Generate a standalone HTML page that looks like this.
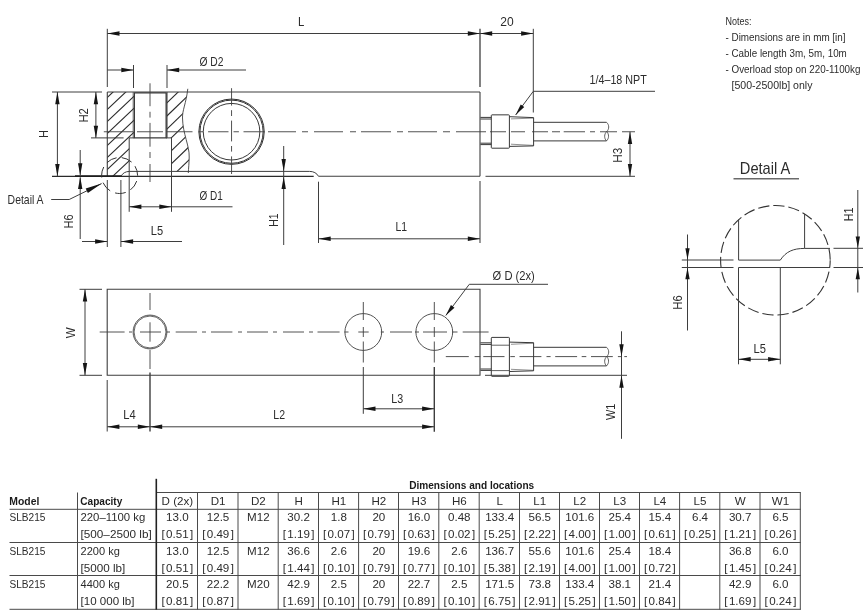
<!DOCTYPE html>
<html lang="en">
<head>
<meta charset="utf-8">
<title>SLB215 Dimensions</title>
<style>
html,body{margin:0;padding:0;background:#fff;}
body{width:868px;height:613px;overflow:hidden;}
svg{display:block;font-family:"Liberation Sans",sans-serif;}
</style>
</head>
<body>
<svg width="868" height="613" viewBox="0 0 868 613">
<rect width="868" height="613" fill="#fff"/>
<g opacity="0.999">
<line x1="107.3" y1="28.8" x2="107.3" y2="87" stroke="#3e3e3e" stroke-width="1"/>
<line x1="480.0" y1="28.8" x2="480.0" y2="87" stroke="#3e3e3e" stroke-width="1.3"/>
<line x1="107.3" y1="33.5" x2="480.0" y2="33.5" stroke="#3e3e3e" stroke-width="1"/>
<polygon points="107.30,33.50 119.50,31.30 119.50,35.70" fill="#151515"/>
<polygon points="480.00,33.50 467.80,35.70 467.80,31.30" fill="#151515"/>
<text x="301.2" y="26.3" font-size="12.1" text-anchor="middle" textLength="6.3" lengthAdjust="spacingAndGlyphs" fill="#2c2c2c">L</text>
<line x1="480.0" y1="33.5" x2="533.3" y2="33.5" stroke="#3e3e3e" stroke-width="1"/>
<polygon points="480.00,33.50 492.20,31.30 492.20,35.70" fill="#151515"/>
<polygon points="533.30,33.50 521.10,35.70 521.10,31.30" fill="#151515"/>
<line x1="533.3" y1="28.8" x2="533.3" y2="112.5" stroke="#3e3e3e" stroke-width="1"/>
<text x="507" y="26.4" font-size="12.1" text-anchor="middle" textLength="13.4" lengthAdjust="spacingAndGlyphs" fill="#2c2c2c">20</text>
<line x1="133.5" y1="65" x2="133.5" y2="88" stroke="#3e3e3e" stroke-width="1"/>
<line x1="167" y1="65" x2="167" y2="88" stroke="#3e3e3e" stroke-width="1"/>
<line x1="107.3" y1="70" x2="133.5" y2="70" stroke="#3e3e3e" stroke-width="1"/>
<polygon points="133.50,70.00 121.30,72.20 121.30,67.80" fill="#151515"/>
<line x1="167" y1="70" x2="246" y2="70" stroke="#3e3e3e" stroke-width="1"/>
<polygon points="167.00,70.00 179.20,67.80 179.20,72.20" fill="#151515"/>
<text x="199.5" y="65.7" font-size="12.1" textLength="24" lengthAdjust="spacingAndGlyphs" fill="#2c2c2c">Ø D2</text>
<line x1="52" y1="92.0" x2="102" y2="92.0" stroke="#3e3e3e" stroke-width="1"/>
<line x1="57.4" y1="92.0" x2="57.4" y2="176.3" stroke="#3e3e3e" stroke-width="1"/>
<polygon points="57.40,92.00 59.60,104.20 55.20,104.20" fill="#151515"/>
<polygon points="57.40,176.30 55.20,164.10 59.60,164.10" fill="#151515"/>
<text x="47.7" y="133.9" font-size="12.1" text-anchor="middle" textLength="7.6" lengthAdjust="spacingAndGlyphs" transform="rotate(-90 47.7 133.9)" fill="#2c2c2c">H</text>
<line x1="91" y1="137.9" x2="123.6" y2="137.9" stroke="#3e3e3e" stroke-width="1"/>
<line x1="95.9" y1="92.0" x2="95.9" y2="137.9" stroke="#3e3e3e" stroke-width="1"/>
<polygon points="95.90,92.00 98.10,104.20 93.70,104.20" fill="#151515"/>
<polygon points="95.90,137.90 93.70,125.70 98.10,125.70" fill="#151515"/>
<text x="87.7" y="115.4" font-size="12.1" text-anchor="middle" textLength="14.3" lengthAdjust="spacingAndGlyphs" transform="rotate(-90 87.7 115.4)" fill="#2c2c2c">H2</text>
<defs>
<clipPath id="hl"><path d="M107.3 92 H134 V137.9 H129.2 V171.4 Q123.5 171.8 121 176.3 H107.3 Z"/></clipPath>
<clipPath id="hr"><path d="M167 92 H187.4 C186 104 182.3 110 182.5 118 C182.8 134 189.6 146 189.2 157 C189 164 188.6 168 188.4 171.4 H171.5 V137.9 H167 Z"/></clipPath>
</defs>
<g clip-path="url(#hl)">
<line x1="100" y1="80.26" x2="200" y2="-13.74" stroke="#2a2a2a" stroke-width="1.1"/>
<line x1="100" y1="92.26" x2="200" y2="-1.74" stroke="#2a2a2a" stroke-width="1.1"/>
<line x1="100" y1="104.26" x2="200" y2="10.26" stroke="#2a2a2a" stroke-width="1.1"/>
<line x1="100" y1="116.26" x2="200" y2="22.26" stroke="#2a2a2a" stroke-width="1.1"/>
<line x1="100" y1="128.26" x2="200" y2="34.26" stroke="#2a2a2a" stroke-width="1.1"/>
<line x1="100" y1="140.26" x2="200" y2="46.26" stroke="#2a2a2a" stroke-width="1.1"/>
<line x1="100" y1="152.26" x2="200" y2="58.26" stroke="#2a2a2a" stroke-width="1.1"/>
<line x1="100" y1="164.26" x2="200" y2="70.26" stroke="#2a2a2a" stroke-width="1.1"/>
<line x1="100" y1="176.26" x2="200" y2="82.26" stroke="#2a2a2a" stroke-width="1.1"/>
<line x1="100" y1="188.26" x2="200" y2="94.26" stroke="#2a2a2a" stroke-width="1.1"/>
<line x1="100" y1="200.26" x2="200" y2="106.26" stroke="#2a2a2a" stroke-width="1.1"/>
<line x1="100" y1="212.26" x2="200" y2="118.26" stroke="#2a2a2a" stroke-width="1.1"/>
<line x1="100" y1="224.26" x2="200" y2="130.26" stroke="#2a2a2a" stroke-width="1.1"/>
<line x1="100" y1="236.26" x2="200" y2="142.26" stroke="#2a2a2a" stroke-width="1.1"/>
</g>
<g clip-path="url(#hr)">
<line x1="160" y1="83.48" x2="200" y2="44.88" stroke="#2a2a2a" stroke-width="1.1"/>
<line x1="160" y1="96.53" x2="200" y2="57.93" stroke="#2a2a2a" stroke-width="1.1"/>
<line x1="160" y1="109.58" x2="200" y2="70.98" stroke="#2a2a2a" stroke-width="1.1"/>
<line x1="160" y1="122.63" x2="200" y2="84.03" stroke="#2a2a2a" stroke-width="1.1"/>
<line x1="160" y1="135.68" x2="200" y2="97.08" stroke="#2a2a2a" stroke-width="1.1"/>
<line x1="160" y1="148.73" x2="200" y2="110.13" stroke="#2a2a2a" stroke-width="1.1"/>
<line x1="160" y1="161.78" x2="200" y2="123.18" stroke="#2a2a2a" stroke-width="1.1"/>
<line x1="160" y1="174.83" x2="200" y2="136.23" stroke="#2a2a2a" stroke-width="1.1"/>
<line x1="160" y1="187.88" x2="200" y2="149.28" stroke="#2a2a2a" stroke-width="1.1"/>
<line x1="160" y1="200.93" x2="200" y2="162.33" stroke="#2a2a2a" stroke-width="1.1"/>
<line x1="160" y1="213.98" x2="200" y2="175.38" stroke="#2a2a2a" stroke-width="1.1"/>
</g>
<line x1="107.3" y1="92.0" x2="480.0" y2="92.0" stroke="#3e3e3e" stroke-width="1.1"/>
<line x1="107.3" y1="92.0" x2="107.3" y2="176.3" stroke="#3e3e3e" stroke-width="1.1"/>
<line x1="480.0" y1="92.0" x2="480.0" y2="176.3" stroke="#3e3e3e" stroke-width="1.1"/>
<line x1="52" y1="176.3" x2="313.7" y2="176.3" stroke="#2a2a2a" stroke-width="1.15"/>
<line x1="318.5" y1="176.3" x2="480.0" y2="176.3" stroke="#3e3e3e" stroke-width="1.1"/>
<line x1="75" y1="176.10000000000002" x2="121.5" y2="176.10000000000002" stroke="#1c1c1c" stroke-width="1.8"/>
<path d="M121 176.3 Q123.5 171.6 129.2 171.4 H309.5 Q315.8 171.4 318.5 176.3" stroke="#3e3e3e" stroke-width="1" fill="none"/>
<path d="M134.3 92.9 H166.2 V137.9 H134.3 Z" stroke="#3a3a3a" stroke-width="1.4" fill="none"/>
<line x1="133.1" y1="92.0" x2="133.1" y2="137.9" stroke="#3e3e3e" stroke-width="0.6"/>
<line x1="167.4" y1="92.0" x2="167.4" y2="137.9" stroke="#3e3e3e" stroke-width="0.6"/>
<line x1="129.2" y1="137.9" x2="134.3" y2="137.9" stroke="#3e3e3e" stroke-width="1"/>
<line x1="166.2" y1="137.9" x2="171.5" y2="137.9" stroke="#3e3e3e" stroke-width="1"/>
<line x1="129.2" y1="137.9" x2="129.2" y2="211.8" stroke="#3e3e3e" stroke-width="1"/>
<line x1="171.5" y1="137.9" x2="171.5" y2="211.8" stroke="#3e3e3e" stroke-width="1"/>
<path d="M150.0 83.3V106.2 M150.0 111.8V117.6 M150.0 122.9V146.7 M150.0 152V158 M150.0 164V182" stroke="#3e3e3e" stroke-width="0.9" fill="none"/>
<path d="M103.8 131.75H133.3 M137 131.75H163 M166.5 131.75H192.5 M198.5 131.75H203.2 M208.1 131.75H228.5 M233.5 131.75H238.9 M243.5 131.75H264.7 M268 131.75H296 M302 131.75H308 M314 131.75H343 M350 131.75H356 M361 131.75H391 M397 131.75H403 M408 131.75H437 M443 131.75H450 M456 131.75H486 M490 131.75H506 M511 131.75H525 M532 131.75H548 M552 131.75H560 M563.7 131.75H585 M590 131.75H595 M600 131.75H617 M622 131.75H635" stroke="#3e3e3e" stroke-width="0.9" fill="none"/>
<path d="M187.8 88.8 C186 104 182.3 110 182.5 118 C182.8 134 189.6 146 189.2 157 C189 164 188.6 168 188.3 173" stroke="#3e3e3e" stroke-width="0.9" fill="none"/>
<circle cx="231.55" cy="131.7" r="32.65" stroke="#2e2e2e" stroke-width="1" fill="none"/>
<circle cx="231.55" cy="131.7" r="31.6" stroke="#2e2e2e" stroke-width="1" fill="none"/>
<circle cx="231.55" cy="131.7" r="28.3" stroke="#2e2e2e" stroke-width="0.95" fill="none"/>
<path d="M231.55 88.2V105.6 M231.55 110.2V116 M231.55 120.6V141.4 M231.55 146V151.6 M231.55 156.4V174" stroke="#3e3e3e" stroke-width="0.9" fill="none"/>
<circle cx="119.6" cy="175.5" r="18" stroke="#333" stroke-width="1" fill="none" stroke-dasharray="10.85 5.3" stroke-dashoffset="-5.7"/>
<line x1="107.3" y1="180" x2="107.3" y2="247" stroke="#3e3e3e" stroke-width="1"/>
<line x1="120.9" y1="180" x2="120.9" y2="247" stroke="#3e3e3e" stroke-width="1"/>
<line x1="80.2" y1="150" x2="80.2" y2="175.3" stroke="#3e3e3e" stroke-width="1"/>
<polygon points="80.20,175.50 78.00,163.30 82.40,163.30" fill="#151515"/>
<line x1="80.2" y1="177.3" x2="80.2" y2="239" stroke="#3e3e3e" stroke-width="1"/>
<polygon points="80.20,176.90 82.40,189.10 78.00,189.10" fill="#151515"/>
<text x="73.4" y="221.5" font-size="12.1" text-anchor="middle" textLength="14" lengthAdjust="spacingAndGlyphs" transform="rotate(-90 73.4 221.5)" fill="#2c2c2c">H6</text>
<line x1="82" y1="241.5" x2="107.3" y2="241.5" stroke="#3e3e3e" stroke-width="1"/>
<polygon points="107.30,241.50 95.10,243.70 95.10,239.30" fill="#151515"/>
<line x1="120.9" y1="241.5" x2="182" y2="241.5" stroke="#3e3e3e" stroke-width="1"/>
<polygon points="120.90,241.50 133.10,239.30 133.10,243.70" fill="#151515"/>
<text x="150.8" y="235.2" font-size="12.1" textLength="12.3" lengthAdjust="spacingAndGlyphs" fill="#2c2c2c">L5</text>
<line x1="129.2" y1="206.8" x2="232.5" y2="206.8" stroke="#3e3e3e" stroke-width="1"/>
<polygon points="129.20,206.80 141.40,204.60 141.40,209.00" fill="#151515"/>
<polygon points="171.50,206.80 159.30,209.00 159.30,204.60" fill="#151515"/>
<text x="199.5" y="199.5" font-size="12.1" textLength="23.3" lengthAdjust="spacingAndGlyphs" fill="#2c2c2c">Ø D1</text>
<text x="7.6" y="204" font-size="12.1" textLength="36" lengthAdjust="spacingAndGlyphs" fill="#2c2c2c">Detail A</text>
<path d="M51.2 199.5 H69.2 L101.6 183.6" stroke="#3e3e3e" stroke-width="1" fill="none"/>
<polygon points="101.60,183.60 87.89,193.11 85.69,188.62" fill="#151515"/>
<line x1="283.7" y1="146" x2="283.7" y2="245" stroke="#3e3e3e" stroke-width="1"/>
<polygon points="283.70,171.20 281.50,159.00 285.90,159.00" fill="#151515"/>
<polygon points="283.70,176.70 285.90,188.90 281.50,188.90" fill="#151515"/>
<text x="278.0" y="220" font-size="12.1" text-anchor="middle" textLength="13.5" lengthAdjust="spacingAndGlyphs" transform="rotate(-90 278.0 220)" fill="#2c2c2c">H1</text>
<line x1="318.5" y1="181.7" x2="318.5" y2="243" stroke="#3e3e3e" stroke-width="1"/>
<line x1="480.0" y1="181" x2="480.0" y2="243" stroke="#3e3e3e" stroke-width="1.05"/>
<line x1="318.5" y1="238.8" x2="480.0" y2="238.8" stroke="#3e3e3e" stroke-width="1"/>
<polygon points="318.50,238.80 330.70,236.60 330.70,241.00" fill="#151515"/>
<polygon points="480.00,238.80 467.80,241.00 467.80,236.60" fill="#151515"/>
<text x="395.5" y="231.2" font-size="12.1" textLength="11.6" lengthAdjust="spacingAndGlyphs" fill="#2c2c2c">L1</text>
<line x1="480.4" y1="117.4" x2="491.3" y2="117.4" stroke="#383838" stroke-width="1.0"/>
<line x1="480.4" y1="144.6" x2="491.3" y2="144.6" stroke="#383838" stroke-width="1.0"/>
<line x1="480.4" y1="119.0" x2="491.3" y2="119.0" stroke="#383838" stroke-width="1.0"/>
<line x1="480.4" y1="143.2" x2="491.3" y2="143.2" stroke="#383838" stroke-width="1.0"/>
<path d="M491.3 115.55 Q491.3 114.85 492 114.85 H508.7 Q509.4 114.85 509.4 115.55 V147.5 Q509.4 148.2 508.7 148.2 H492 Q491.3 148.2 491.3 147.5 Z" stroke="#383838" stroke-width="1.0" fill="none"/>
<path d="M509.4 116.7 L533.6 117.6 V145.9 L509.4 146.4" stroke="#383838" stroke-width="1.0" fill="none"/>
<line x1="511" y1="118.9" x2="533.6" y2="118.1" stroke="#383838" stroke-width="0.55"/>
<line x1="511" y1="144.20000000000002" x2="533.6" y2="145.4" stroke="#383838" stroke-width="0.55"/>
<line x1="533.6" y1="122.3" x2="606.5" y2="122.3" stroke="#383838" stroke-width="1.0"/>
<line x1="533.6" y1="140.9" x2="606.5" y2="140.9" stroke="#383838" stroke-width="1.0"/>
<path d="M606.5 122.3 C609.4 124.8 609.4 129.1 606.7 131.6 C604 134.1 604 138.4 606.5 140.9 C609.2 138.4 609.2 134.1 606.7 131.6" stroke="#383838" stroke-width="0.8" fill="none"/>
<path d="M655 91.3 H533.3 L515.6 115" stroke="#3e3e3e" stroke-width="1" fill="none"/>
<polygon points="515.60,115.00 520.72,104.47 524.24,107.10" fill="#151515"/>
<text x="589.5" y="83.5" font-size="12.1" textLength="57.3" lengthAdjust="spacingAndGlyphs" fill="#2c2c2c">1/4–18 NPT</text>
<line x1="485.5" y1="176.3" x2="635" y2="176.3" stroke="#3e3e3e" stroke-width="1"/>
<line x1="630" y1="131.75" x2="630" y2="176.3" stroke="#3e3e3e" stroke-width="1"/>
<polygon points="630.00,131.75 632.20,143.95 627.80,143.95" fill="#151515"/>
<polygon points="630.00,176.30 627.80,164.10 632.20,164.10" fill="#151515"/>
<text x="622.1" y="155.3" font-size="12.1" text-anchor="middle" textLength="15" lengthAdjust="spacingAndGlyphs" transform="rotate(-90 622.1 155.3)" fill="#2c2c2c">H3</text>
<path d="M107.2 289.3 H480 V375.3 H107.2 Z" stroke="#3e3e3e" stroke-width="1.1" fill="none"/>
<line x1="79.5" y1="289.3" x2="102" y2="289.3" stroke="#3e3e3e" stroke-width="1"/>
<line x1="79.5" y1="375.3" x2="102" y2="375.3" stroke="#3e3e3e" stroke-width="1"/>
<line x1="85" y1="289.3" x2="85" y2="375.3" stroke="#3e3e3e" stroke-width="1"/>
<polygon points="85.00,289.30 87.20,301.50 82.80,301.50" fill="#151515"/>
<polygon points="85.00,375.30 82.80,363.10 87.20,363.10" fill="#151515"/>
<text x="75.4" y="332.8" font-size="12.1" text-anchor="middle" textLength="11" lengthAdjust="spacingAndGlyphs" transform="rotate(-90 75.4 332.8)" fill="#2c2c2c">W</text>
<circle cx="150" cy="332.0" r="16.9" stroke="#3e3e3e" stroke-width="0.9" fill="none"/>
<circle cx="150" cy="332.0" r="16.0" stroke="#3e3e3e" stroke-width="0.8" fill="none"/>
<circle cx="363.3" cy="332.0" r="18.4" stroke="#3e3e3e" stroke-width="0.9" fill="none"/>
<circle cx="434.3" cy="332.0" r="18.4" stroke="#3e3e3e" stroke-width="0.9" fill="none"/>
<path d="M99.7 332.0H124.6 M129 332.0H132 M140 332.0H161 M166.7 332.0H170 M175.7 332.0H197 M202 332.0H206 M211 332.0H232.4 M238 332.0H242 M247 332.0H268 M273 332.0H277 M283 332.0H304 M309 332.0H313 M317.5 332.0H339.6 M344.5 332.0H348.5 M358.3 332.0H368.7 M380.8 332.0H384 M390 332.0H412 M415 332.0H419 M423 332.0H447 M452 332.0H457.5 M462.7 332.0H488.6" stroke="#3e3e3e" stroke-width="0.9" fill="none"/>
<path d="M150 293V310 M150 322.3V341.7 M150 350V369" stroke="#3e3e3e" stroke-width="0.9" fill="none"/>
<path d="M363.3 302V320 M363.3 327V337 M363.3 341.5V362.5" stroke="#3e3e3e" stroke-width="0.9" fill="none"/>
<path d="M434.3 302V320 M434.3 327V337 M434.3 341.5V362.5" stroke="#3e3e3e" stroke-width="0.9" fill="none"/>
<line x1="107.2" y1="380" x2="107.2" y2="431.5" stroke="#3e3e3e" stroke-width="1"/>
<line x1="150" y1="372.5" x2="150" y2="431.5" stroke="#3e3e3e" stroke-width="1.4"/>
<line x1="107.2" y1="426.8" x2="434.3" y2="426.8" stroke="#3e3e3e" stroke-width="1"/>
<polygon points="107.20,426.80 119.40,424.60 119.40,429.00" fill="#151515"/>
<polygon points="150.00,426.80 137.80,429.00 137.80,424.60" fill="#151515"/>
<polygon points="150.00,426.80 162.20,424.60 162.20,429.00" fill="#151515"/>
<polygon points="434.30,426.80 422.10,429.00 422.10,424.60" fill="#151515"/>
<text x="123.3" y="419" font-size="12.1" textLength="12.4" lengthAdjust="spacingAndGlyphs" fill="#2c2c2c">L4</text>
<text x="273.3" y="419" font-size="12.1" textLength="11.7" lengthAdjust="spacingAndGlyphs" fill="#2c2c2c">L2</text>
<line x1="363.3" y1="367" x2="363.3" y2="413.8" stroke="#3e3e3e" stroke-width="1"/>
<line x1="434.3" y1="367" x2="434.3" y2="431.8" stroke="#3e3e3e" stroke-width="1.4"/>
<line x1="363.3" y1="408.8" x2="434.3" y2="408.8" stroke="#3e3e3e" stroke-width="1"/>
<polygon points="363.30,408.80 375.50,406.60 375.50,411.00" fill="#151515"/>
<polygon points="434.30,408.80 422.10,411.00 422.10,406.60" fill="#151515"/>
<text x="391.3" y="402.7" font-size="12.1" textLength="11.9" lengthAdjust="spacingAndGlyphs" fill="#2c2c2c">L3</text>
<path d="M548 284.3 H469.3 L445.8 315.5" stroke="#3e3e3e" stroke-width="1" fill="none"/>
<polygon points="445.80,315.50 450.96,304.99 454.48,307.64" fill="#151515"/>
<text x="492.6" y="280.2" font-size="12.1" textLength="42.2" lengthAdjust="spacingAndGlyphs" fill="#2c2c2c">Ø D (2x)</text>
<line x1="480.4" y1="342.8" x2="491.3" y2="342.8" stroke="#383838" stroke-width="1.0"/>
<line x1="480.4" y1="370.4" x2="491.3" y2="370.4" stroke="#383838" stroke-width="1.0"/>
<line x1="480.4" y1="344.40000000000003" x2="491.3" y2="344.40000000000003" stroke="#383838" stroke-width="1.0"/>
<line x1="480.4" y1="369.0" x2="491.3" y2="369.0" stroke="#383838" stroke-width="1.0"/>
<path d="M491.3 338.09999999999997 Q491.3 337.4 492 337.4 H508.7 Q509.4 337.4 509.4 338.09999999999997 V375.6 Q509.4 376.3 508.7 376.3 H492 Q491.3 376.3 491.3 375.6 Z" stroke="#383838" stroke-width="1.0" fill="none"/>
<line x1="491.3" y1="345.2" x2="509.4" y2="345.2" stroke="#383838" stroke-width="0.8"/>
<line x1="491.3" y1="370.6" x2="509.4" y2="370.6" stroke="#383838" stroke-width="0.8"/>
<path d="M509.4 342.1 L533.6 342.7 V370.8 L509.4 371.5" stroke="#383838" stroke-width="1.0" fill="none"/>
<line x1="511" y1="344.3" x2="533.6" y2="343.2" stroke="#383838" stroke-width="0.55"/>
<line x1="511" y1="369.3" x2="533.6" y2="370.3" stroke="#383838" stroke-width="0.55"/>
<line x1="533.6" y1="347.3" x2="606.5" y2="347.3" stroke="#383838" stroke-width="1.0"/>
<line x1="533.6" y1="365.9" x2="606.5" y2="365.9" stroke="#383838" stroke-width="1.0"/>
<path d="M606.5 347.3 C609.4 349.8 609.4 354.1 606.7 356.6 C604 359.1 604 363.4 606.5 365.9 C609.2 363.4 609.2 359.1 606.7 356.6" stroke="#383838" stroke-width="0.8" fill="none"/>
<path d="M445.8 356.6H468.8 M474.6 356.6H480.3 M483.3 356.6H504.5 M510.3 356.6H514.9 M519.5 356.6H541.4 M546.5 356.6H550.6 M555.2 356.6H577.1 M581.7 356.6H586.3 M591 356.6H612.8 M617.9 356.6H621.5 M624.3 356.6H627" stroke="#3e3e3e" stroke-width="0.9" fill="none"/>
<line x1="485" y1="375.3" x2="627" y2="375.3" stroke="#3e3e3e" stroke-width="1"/>
<line x1="621.5" y1="331.3" x2="621.5" y2="438.8" stroke="#3e3e3e" stroke-width="1"/>
<polygon points="621.50,356.40 619.30,344.20 623.70,344.20" fill="#151515"/>
<polygon points="621.50,375.50 623.70,387.70 619.30,387.70" fill="#151515"/>
<text x="615.3" y="411.8" font-size="12.1" text-anchor="middle" textLength="16.3" lengthAdjust="spacingAndGlyphs" transform="rotate(-90 615.3 411.8)" fill="#2c2c2c">W1</text>
<text x="739.8" y="173.9" font-size="17" textLength="50.5" lengthAdjust="spacingAndGlyphs" fill="#2c2c2c">Detail A</text>
<line x1="733.5" y1="178.8" x2="799" y2="178.8" stroke="#6a6a6a" stroke-width="1.4"/>
<circle cx="775.4" cy="260.3" r="54.8" stroke="#333" stroke-width="1.1" fill="none" stroke-dasharray="11.3 3.96" stroke-dashoffset="-11.5"/>
<path d="M738.6 219.5 V260.1 H780.3 C786 251.5 793 248.5 804.6 248.4 H830" stroke="#3e3e3e" stroke-width="1" fill="none"/>
<line x1="804.6" y1="213.8" x2="804.6" y2="248.3" stroke="#3e3e3e" stroke-width="1"/>
<line x1="738.5" y1="267.5" x2="830" y2="267.5" stroke="#3e3e3e" stroke-width="1"/>
<line x1="681.8" y1="260" x2="733.5" y2="260" stroke="#3e3e3e" stroke-width="1"/>
<line x1="681.8" y1="267.5" x2="733.5" y2="267.5" stroke="#3e3e3e" stroke-width="1"/>
<line x1="833.5" y1="248.3" x2="863" y2="248.3" stroke="#3e3e3e" stroke-width="1"/>
<line x1="833.5" y1="267.5" x2="863" y2="267.5" stroke="#3e3e3e" stroke-width="1"/>
<line x1="687.5" y1="234.5" x2="687.5" y2="330.5" stroke="#3e3e3e" stroke-width="1"/>
<polygon points="687.50,259.80 685.35,248.30 689.65,248.30" fill="#151515"/>
<polygon points="687.50,267.70 689.65,279.20 685.35,279.20" fill="#151515"/>
<text x="682.3" y="302.5" font-size="12.1" text-anchor="middle" textLength="14.3" lengthAdjust="spacingAndGlyphs" transform="rotate(-90 682.3 302.5)" fill="#2c2c2c">H6</text>
<line x1="857.8" y1="190" x2="857.8" y2="292.5" stroke="#3e3e3e" stroke-width="1"/>
<polygon points="857.80,248.10 855.65,236.60 859.95,236.60" fill="#151515"/>
<polygon points="857.80,267.70 859.95,279.20 855.65,279.20" fill="#151515"/>
<text x="852.9" y="214.3" font-size="12.1" text-anchor="middle" textLength="13.7" lengthAdjust="spacingAndGlyphs" transform="rotate(-90 852.9 214.3)" fill="#2c2c2c">H1</text>
<line x1="738.5" y1="267.5" x2="738.5" y2="364.3" stroke="#3e3e3e" stroke-width="1"/>
<line x1="780.3" y1="267.5" x2="780.3" y2="364.3" stroke="#3e3e3e" stroke-width="1"/>
<line x1="738.5" y1="359.3" x2="780.3" y2="359.3" stroke="#3e3e3e" stroke-width="1"/>
<polygon points="738.50,359.30 750.70,357.10 750.70,361.50" fill="#151515"/>
<polygon points="780.30,359.30 768.10,361.50 768.10,357.10" fill="#151515"/>
<text x="753.5" y="353.2" font-size="12.1" textLength="12.4" lengthAdjust="spacingAndGlyphs" fill="#2c2c2c">L5</text>
<text x="725.5" y="25" font-size="11.3" textLength="26" lengthAdjust="spacingAndGlyphs" fill="#2c2c2c">Notes:</text>
<text x="725.5" y="41" font-size="11.3" textLength="120" lengthAdjust="spacingAndGlyphs" fill="#2c2c2c">- Dimensions are in mm [in]</text>
<text x="725.5" y="57" font-size="11.3" textLength="121.3" lengthAdjust="spacingAndGlyphs" fill="#2c2c2c">- Cable length 3m, 5m, 10m</text>
<text x="725.5" y="73" font-size="11.3" textLength="135" lengthAdjust="spacingAndGlyphs" fill="#2c2c2c">- Overload stop on 220-1100kg</text>
<text x="731.5" y="89.3" font-size="11.3" textLength="81" lengthAdjust="spacingAndGlyphs" fill="#2c2c2c">[500-2500lb] only</text>
<line x1="156.3" y1="492.5" x2="800.8" y2="492.5" stroke="#4a4a4a" stroke-width="1"/>
<line x1="9.5" y1="509.3" x2="800.8" y2="509.3" stroke="#4a4a4a" stroke-width="1"/>
<line x1="9.5" y1="542.5" x2="800.8" y2="542.5" stroke="#4a4a4a" stroke-width="1"/>
<line x1="9.5" y1="575.5" x2="800.8" y2="575.5" stroke="#4a4a4a" stroke-width="1"/>
<line x1="9.5" y1="609.3" x2="800.8" y2="609.3" stroke="#4a4a4a" stroke-width="1"/>
<line x1="77.5" y1="492.5" x2="77.5" y2="609.5999999999999" stroke="#4a4a4a" stroke-width="1"/>
<line x1="156.3" y1="478.8" x2="156.3" y2="609.5999999999999" stroke="#222" stroke-width="1.6"/>
<line x1="197.5" y1="492.5" x2="197.5" y2="609.5999999999999" stroke="#4a4a4a" stroke-width="1"/>
<line x1="238.0" y1="492.5" x2="238.0" y2="609.5999999999999" stroke="#4a4a4a" stroke-width="1"/>
<line x1="278.2" y1="492.5" x2="278.2" y2="609.5999999999999" stroke="#4a4a4a" stroke-width="1"/>
<line x1="318.5" y1="492.5" x2="318.5" y2="609.5999999999999" stroke="#4a4a4a" stroke-width="1"/>
<line x1="358.6" y1="492.5" x2="358.6" y2="609.5999999999999" stroke="#4a4a4a" stroke-width="1"/>
<line x1="398.5" y1="492.5" x2="398.5" y2="609.5999999999999" stroke="#4a4a4a" stroke-width="1"/>
<line x1="438.8" y1="492.5" x2="438.8" y2="609.5999999999999" stroke="#4a4a4a" stroke-width="1"/>
<line x1="479.2" y1="492.5" x2="479.2" y2="609.5999999999999" stroke="#4a4a4a" stroke-width="1"/>
<line x1="519.5" y1="492.5" x2="519.5" y2="609.5999999999999" stroke="#4a4a4a" stroke-width="1"/>
<line x1="559.5" y1="492.5" x2="559.5" y2="609.5999999999999" stroke="#4a4a4a" stroke-width="1"/>
<line x1="599.5" y1="492.5" x2="599.5" y2="609.5999999999999" stroke="#4a4a4a" stroke-width="1"/>
<line x1="639.5" y1="492.5" x2="639.5" y2="609.5999999999999" stroke="#4a4a4a" stroke-width="1"/>
<line x1="679.6" y1="492.5" x2="679.6" y2="609.5999999999999" stroke="#4a4a4a" stroke-width="1"/>
<line x1="719.8" y1="492.5" x2="719.8" y2="609.5999999999999" stroke="#4a4a4a" stroke-width="1"/>
<line x1="760.0" y1="492.5" x2="760.0" y2="609.5999999999999" stroke="#4a4a4a" stroke-width="1"/>
<line x1="800.3" y1="492.5" x2="800.3" y2="609.5999999999999" stroke="#4a4a4a" stroke-width="1"/>
<text x="409.2" y="488.6" font-size="11.5" textLength="125" lengthAdjust="spacingAndGlyphs" font-weight="bold" fill="#1a1a1a">Dimensions and locations</text>
<text x="9.3" y="504.9" font-size="11.5" textLength="30" lengthAdjust="spacingAndGlyphs" font-weight="bold" fill="#1a1a1a">Model</text>
<text x="80.3" y="504.9" font-size="11.5" textLength="42" lengthAdjust="spacingAndGlyphs" font-weight="bold" fill="#1a1a1a">Capacity</text>
<text x="177.35" y="504.6" font-size="11.6" text-anchor="middle" fill="#2c2c2c">D (2x)</text>
<text x="218.05" y="504.6" font-size="11.6" text-anchor="middle" fill="#2c2c2c">D1</text>
<text x="258.4" y="504.6" font-size="11.6" text-anchor="middle" fill="#2c2c2c">D2</text>
<text x="298.65" y="504.6" font-size="11.6" text-anchor="middle" fill="#2c2c2c">H</text>
<text x="338.85" y="504.6" font-size="11.6" text-anchor="middle" fill="#2c2c2c">H1</text>
<text x="378.85" y="504.6" font-size="11.6" text-anchor="middle" fill="#2c2c2c">H2</text>
<text x="418.95" y="504.6" font-size="11.6" text-anchor="middle" fill="#2c2c2c">H3</text>
<text x="459.3" y="504.6" font-size="11.6" text-anchor="middle" fill="#2c2c2c">H6</text>
<text x="499.65" y="504.6" font-size="11.6" text-anchor="middle" fill="#2c2c2c">L</text>
<text x="539.8" y="504.6" font-size="11.6" text-anchor="middle" fill="#2c2c2c">L1</text>
<text x="579.8" y="504.6" font-size="11.6" text-anchor="middle" fill="#2c2c2c">L2</text>
<text x="619.8" y="504.6" font-size="11.6" text-anchor="middle" fill="#2c2c2c">L3</text>
<text x="659.85" y="504.6" font-size="11.6" text-anchor="middle" fill="#2c2c2c">L4</text>
<text x="700.0" y="504.6" font-size="11.6" text-anchor="middle" fill="#2c2c2c">L5</text>
<text x="740.2" y="504.6" font-size="11.6" text-anchor="middle" fill="#2c2c2c">W</text>
<text x="780.45" y="504.6" font-size="11.6" text-anchor="middle" fill="#2c2c2c">W1</text>
<text x="9.5" y="521.3" font-size="11.6" textLength="36" lengthAdjust="spacingAndGlyphs" fill="#2c2c2c">SLB215</text>
<text x="80.5" y="521.3" font-size="11.6" textLength="64.8" lengthAdjust="spacingAndGlyphs" fill="#2c2c2c">220–1100 kg</text>
<text x="80.5" y="538.3" font-size="11.6" textLength="71.2" lengthAdjust="spacingAndGlyphs" fill="#2c2c2c">[500–2500 lb]</text>
<text x="177.35" y="521.3" font-size="11.6" text-anchor="middle" fill="#2c2c2c">13.0</text>
<text x="218.05" y="521.3" font-size="11.6" text-anchor="middle" fill="#2c2c2c">12.5</text>
<text x="258.4" y="521.3" font-size="11.6" text-anchor="middle" fill="#2c2c2c">M12</text>
<text x="298.65" y="521.3" font-size="11.6" text-anchor="middle" fill="#2c2c2c">30.2</text>
<text x="338.85" y="521.3" font-size="11.6" text-anchor="middle" fill="#2c2c2c">1.8</text>
<text x="378.85" y="521.3" font-size="11.6" text-anchor="middle" fill="#2c2c2c">20</text>
<text x="418.95" y="521.3" font-size="11.6" text-anchor="middle" fill="#2c2c2c">16.0</text>
<text x="459.3" y="521.3" font-size="11.6" text-anchor="middle" fill="#2c2c2c">0.48</text>
<text x="499.65" y="521.3" font-size="11.6" text-anchor="middle" fill="#2c2c2c">133.4</text>
<text x="539.8" y="521.3" font-size="11.6" text-anchor="middle" fill="#2c2c2c">56.5</text>
<text x="579.8" y="521.3" font-size="11.6" text-anchor="middle" fill="#2c2c2c">101.6</text>
<text x="619.8" y="521.3" font-size="11.6" text-anchor="middle" fill="#2c2c2c">25.4</text>
<text x="659.85" y="521.3" font-size="11.6" text-anchor="middle" fill="#2c2c2c">15.4</text>
<text x="700.0" y="521.3" font-size="11.6" text-anchor="middle" fill="#2c2c2c">6.4</text>
<text x="740.2" y="521.3" font-size="11.6" text-anchor="middle" fill="#2c2c2c">30.7</text>
<text x="780.45" y="521.3" font-size="11.6" text-anchor="middle" fill="#2c2c2c">6.5</text>
<text x="177.35" y="538.3" font-size="11.6" text-anchor="middle" fill="#2c2c2c">[<tspan dx="1.4">0.51</tspan><tspan dx="1.4">]</tspan></text>
<text x="218.05" y="538.3" font-size="11.6" text-anchor="middle" fill="#2c2c2c">[<tspan dx="1.4">0.49</tspan><tspan dx="1.4">]</tspan></text>
<text x="298.65" y="538.3" font-size="11.6" text-anchor="middle" fill="#2c2c2c">[<tspan dx="1.4">1.19</tspan><tspan dx="1.4">]</tspan></text>
<text x="338.85" y="538.3" font-size="11.6" text-anchor="middle" fill="#2c2c2c">[<tspan dx="1.4">0.07</tspan><tspan dx="1.4">]</tspan></text>
<text x="378.85" y="538.3" font-size="11.6" text-anchor="middle" fill="#2c2c2c">[<tspan dx="1.4">0.79</tspan><tspan dx="1.4">]</tspan></text>
<text x="418.95" y="538.3" font-size="11.6" text-anchor="middle" fill="#2c2c2c">[<tspan dx="1.4">0.63</tspan><tspan dx="1.4">]</tspan></text>
<text x="459.3" y="538.3" font-size="11.6" text-anchor="middle" fill="#2c2c2c">[<tspan dx="1.4">0.02</tspan><tspan dx="1.4">]</tspan></text>
<text x="499.65" y="538.3" font-size="11.6" text-anchor="middle" fill="#2c2c2c">[<tspan dx="1.4">5.25</tspan><tspan dx="1.4">]</tspan></text>
<text x="539.8" y="538.3" font-size="11.6" text-anchor="middle" fill="#2c2c2c">[<tspan dx="1.4">2.22</tspan><tspan dx="1.4">]</tspan></text>
<text x="579.8" y="538.3" font-size="11.6" text-anchor="middle" fill="#2c2c2c">[<tspan dx="1.4">4.00</tspan><tspan dx="1.4">]</tspan></text>
<text x="619.8" y="538.3" font-size="11.6" text-anchor="middle" fill="#2c2c2c">[<tspan dx="1.4">1.00</tspan><tspan dx="1.4">]</tspan></text>
<text x="659.85" y="538.3" font-size="11.6" text-anchor="middle" fill="#2c2c2c">[<tspan dx="1.4">0.61</tspan><tspan dx="1.4">]</tspan></text>
<text x="700.0" y="538.3" font-size="11.6" text-anchor="middle" fill="#2c2c2c">[<tspan dx="1.4">0.25</tspan><tspan dx="1.4">]</tspan></text>
<text x="740.2" y="538.3" font-size="11.6" text-anchor="middle" fill="#2c2c2c">[<tspan dx="1.4">1.21</tspan><tspan dx="1.4">]</tspan></text>
<text x="780.45" y="538.3" font-size="11.6" text-anchor="middle" fill="#2c2c2c">[<tspan dx="1.4">0.26</tspan><tspan dx="1.4">]</tspan></text>
<text x="9.5" y="554.5" font-size="11.6" textLength="36" lengthAdjust="spacingAndGlyphs" fill="#2c2c2c">SLB215</text>
<text x="80.5" y="554.5" font-size="11.6" textLength="39.3" lengthAdjust="spacingAndGlyphs" fill="#2c2c2c">2200 kg</text>
<text x="80.5" y="571.5" font-size="11.6" textLength="44.8" lengthAdjust="spacingAndGlyphs" fill="#2c2c2c">[5000 lb]</text>
<text x="177.35" y="554.5" font-size="11.6" text-anchor="middle" fill="#2c2c2c">13.0</text>
<text x="218.05" y="554.5" font-size="11.6" text-anchor="middle" fill="#2c2c2c">12.5</text>
<text x="258.4" y="554.5" font-size="11.6" text-anchor="middle" fill="#2c2c2c">M12</text>
<text x="298.65" y="554.5" font-size="11.6" text-anchor="middle" fill="#2c2c2c">36.6</text>
<text x="338.85" y="554.5" font-size="11.6" text-anchor="middle" fill="#2c2c2c">2.6</text>
<text x="378.85" y="554.5" font-size="11.6" text-anchor="middle" fill="#2c2c2c">20</text>
<text x="418.95" y="554.5" font-size="11.6" text-anchor="middle" fill="#2c2c2c">19.6</text>
<text x="459.3" y="554.5" font-size="11.6" text-anchor="middle" fill="#2c2c2c">2.6</text>
<text x="499.65" y="554.5" font-size="11.6" text-anchor="middle" fill="#2c2c2c">136.7</text>
<text x="539.8" y="554.5" font-size="11.6" text-anchor="middle" fill="#2c2c2c">55.6</text>
<text x="579.8" y="554.5" font-size="11.6" text-anchor="middle" fill="#2c2c2c">101.6</text>
<text x="619.8" y="554.5" font-size="11.6" text-anchor="middle" fill="#2c2c2c">25.4</text>
<text x="659.85" y="554.5" font-size="11.6" text-anchor="middle" fill="#2c2c2c">18.4</text>
<text x="740.2" y="554.5" font-size="11.6" text-anchor="middle" fill="#2c2c2c">36.8</text>
<text x="780.45" y="554.5" font-size="11.6" text-anchor="middle" fill="#2c2c2c">6.0</text>
<text x="177.35" y="571.5" font-size="11.6" text-anchor="middle" fill="#2c2c2c">[<tspan dx="1.4">0.51</tspan><tspan dx="1.4">]</tspan></text>
<text x="218.05" y="571.5" font-size="11.6" text-anchor="middle" fill="#2c2c2c">[<tspan dx="1.4">0.49</tspan><tspan dx="1.4">]</tspan></text>
<text x="298.65" y="571.5" font-size="11.6" text-anchor="middle" fill="#2c2c2c">[<tspan dx="1.4">1.44</tspan><tspan dx="1.4">]</tspan></text>
<text x="338.85" y="571.5" font-size="11.6" text-anchor="middle" fill="#2c2c2c">[<tspan dx="1.4">0.10</tspan><tspan dx="1.4">]</tspan></text>
<text x="378.85" y="571.5" font-size="11.6" text-anchor="middle" fill="#2c2c2c">[<tspan dx="1.4">0.79</tspan><tspan dx="1.4">]</tspan></text>
<text x="418.95" y="571.5" font-size="11.6" text-anchor="middle" fill="#2c2c2c">[<tspan dx="1.4">0.77</tspan><tspan dx="1.4">]</tspan></text>
<text x="459.3" y="571.5" font-size="11.6" text-anchor="middle" fill="#2c2c2c">[<tspan dx="1.4">0.10</tspan><tspan dx="1.4">]</tspan></text>
<text x="499.65" y="571.5" font-size="11.6" text-anchor="middle" fill="#2c2c2c">[<tspan dx="1.4">5.38</tspan><tspan dx="1.4">]</tspan></text>
<text x="539.8" y="571.5" font-size="11.6" text-anchor="middle" fill="#2c2c2c">[<tspan dx="1.4">2.19</tspan><tspan dx="1.4">]</tspan></text>
<text x="579.8" y="571.5" font-size="11.6" text-anchor="middle" fill="#2c2c2c">[<tspan dx="1.4">4.00</tspan><tspan dx="1.4">]</tspan></text>
<text x="619.8" y="571.5" font-size="11.6" text-anchor="middle" fill="#2c2c2c">[<tspan dx="1.4">1.00</tspan><tspan dx="1.4">]</tspan></text>
<text x="659.85" y="571.5" font-size="11.6" text-anchor="middle" fill="#2c2c2c">[<tspan dx="1.4">0.72</tspan><tspan dx="1.4">]</tspan></text>
<text x="740.2" y="571.5" font-size="11.6" text-anchor="middle" fill="#2c2c2c">[<tspan dx="1.4">1.45</tspan><tspan dx="1.4">]</tspan></text>
<text x="780.45" y="571.5" font-size="11.6" text-anchor="middle" fill="#2c2c2c">[<tspan dx="1.4">0.24</tspan><tspan dx="1.4">]</tspan></text>
<text x="9.5" y="588.2" font-size="11.6" textLength="36" lengthAdjust="spacingAndGlyphs" fill="#2c2c2c">SLB215</text>
<text x="80.5" y="588.2" font-size="11.6" textLength="39.3" lengthAdjust="spacingAndGlyphs" fill="#2c2c2c">4400 kg</text>
<text x="80.5" y="604.7" font-size="11.6" textLength="54" lengthAdjust="spacingAndGlyphs" fill="#2c2c2c">[10 000 lb]</text>
<text x="177.35" y="588.2" font-size="11.6" text-anchor="middle" fill="#2c2c2c">20.5</text>
<text x="218.05" y="588.2" font-size="11.6" text-anchor="middle" fill="#2c2c2c">22.2</text>
<text x="258.4" y="588.2" font-size="11.6" text-anchor="middle" fill="#2c2c2c">M20</text>
<text x="298.65" y="588.2" font-size="11.6" text-anchor="middle" fill="#2c2c2c">42.9</text>
<text x="338.85" y="588.2" font-size="11.6" text-anchor="middle" fill="#2c2c2c">2.5</text>
<text x="378.85" y="588.2" font-size="11.6" text-anchor="middle" fill="#2c2c2c">20</text>
<text x="418.95" y="588.2" font-size="11.6" text-anchor="middle" fill="#2c2c2c">22.7</text>
<text x="459.3" y="588.2" font-size="11.6" text-anchor="middle" fill="#2c2c2c">2.5</text>
<text x="499.65" y="588.2" font-size="11.6" text-anchor="middle" fill="#2c2c2c">171.5</text>
<text x="539.8" y="588.2" font-size="11.6" text-anchor="middle" fill="#2c2c2c">73.8</text>
<text x="579.8" y="588.2" font-size="11.6" text-anchor="middle" fill="#2c2c2c">133.4</text>
<text x="619.8" y="588.2" font-size="11.6" text-anchor="middle" fill="#2c2c2c">38.1</text>
<text x="659.85" y="588.2" font-size="11.6" text-anchor="middle" fill="#2c2c2c">21.4</text>
<text x="740.2" y="588.2" font-size="11.6" text-anchor="middle" fill="#2c2c2c">42.9</text>
<text x="780.45" y="588.2" font-size="11.6" text-anchor="middle" fill="#2c2c2c">6.0</text>
<text x="177.35" y="604.7" font-size="11.6" text-anchor="middle" fill="#2c2c2c">[<tspan dx="1.4">0.81</tspan><tspan dx="1.4">]</tspan></text>
<text x="218.05" y="604.7" font-size="11.6" text-anchor="middle" fill="#2c2c2c">[<tspan dx="1.4">0.87</tspan><tspan dx="1.4">]</tspan></text>
<text x="298.65" y="604.7" font-size="11.6" text-anchor="middle" fill="#2c2c2c">[<tspan dx="1.4">1.69</tspan><tspan dx="1.4">]</tspan></text>
<text x="338.85" y="604.7" font-size="11.6" text-anchor="middle" fill="#2c2c2c">[<tspan dx="1.4">0.10</tspan><tspan dx="1.4">]</tspan></text>
<text x="378.85" y="604.7" font-size="11.6" text-anchor="middle" fill="#2c2c2c">[<tspan dx="1.4">0.79</tspan><tspan dx="1.4">]</tspan></text>
<text x="418.95" y="604.7" font-size="11.6" text-anchor="middle" fill="#2c2c2c">[<tspan dx="1.4">0.89</tspan><tspan dx="1.4">]</tspan></text>
<text x="459.3" y="604.7" font-size="11.6" text-anchor="middle" fill="#2c2c2c">[<tspan dx="1.4">0.10</tspan><tspan dx="1.4">]</tspan></text>
<text x="499.65" y="604.7" font-size="11.6" text-anchor="middle" fill="#2c2c2c">[<tspan dx="1.4">6.75</tspan><tspan dx="1.4">]</tspan></text>
<text x="539.8" y="604.7" font-size="11.6" text-anchor="middle" fill="#2c2c2c">[<tspan dx="1.4">2.91</tspan><tspan dx="1.4">]</tspan></text>
<text x="579.8" y="604.7" font-size="11.6" text-anchor="middle" fill="#2c2c2c">[<tspan dx="1.4">5.25</tspan><tspan dx="1.4">]</tspan></text>
<text x="619.8" y="604.7" font-size="11.6" text-anchor="middle" fill="#2c2c2c">[<tspan dx="1.4">1.50</tspan><tspan dx="1.4">]</tspan></text>
<text x="659.85" y="604.7" font-size="11.6" text-anchor="middle" fill="#2c2c2c">[<tspan dx="1.4">0.84</tspan><tspan dx="1.4">]</tspan></text>
<text x="740.2" y="604.7" font-size="11.6" text-anchor="middle" fill="#2c2c2c">[<tspan dx="1.4">1.69</tspan><tspan dx="1.4">]</tspan></text>
<text x="780.45" y="604.7" font-size="11.6" text-anchor="middle" fill="#2c2c2c">[<tspan dx="1.4">0.24</tspan><tspan dx="1.4">]</tspan></text>
</g>
</svg>
</body>
</html>
